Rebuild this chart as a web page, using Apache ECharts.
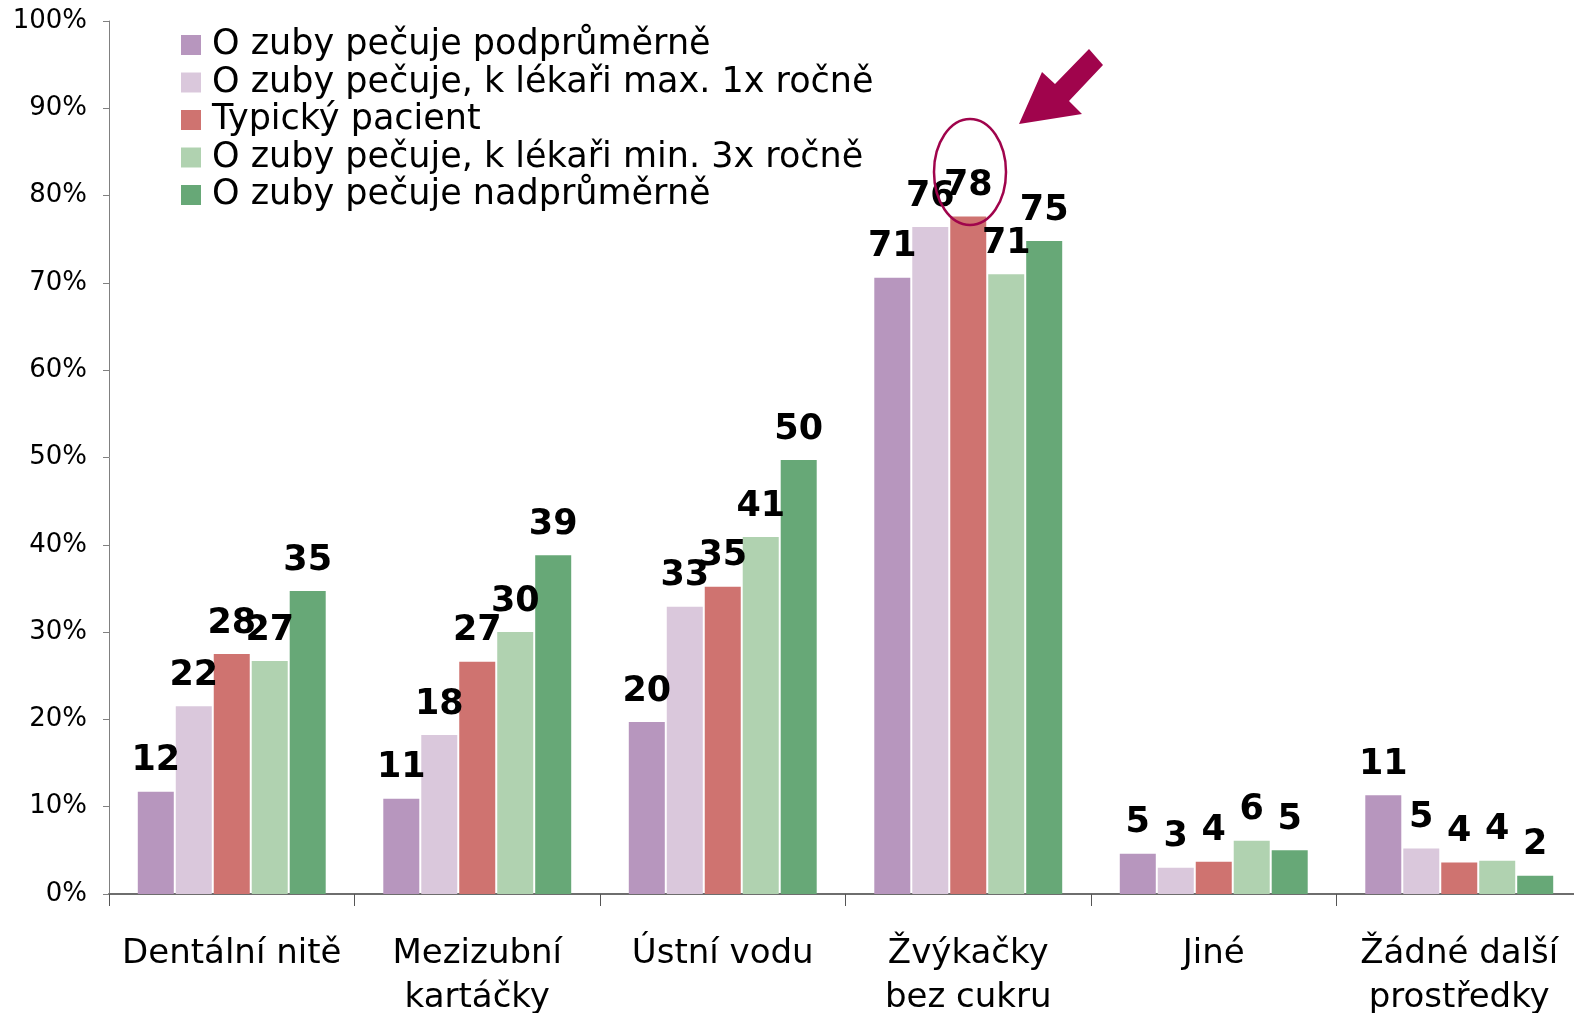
<!DOCTYPE html>
<html>
<head>
<meta charset="utf-8">
<script src="https://cdn.jsdelivr.net/npm/echarts@6/dist/echarts.min.js"></script>
<style>
  html, body { margin: 0; padding: 0; background: #fff; }
  #chart { width: 1574px; height: 1013px; }
</style>
</head>
<body>
<div id="chart"></div>
<script>
var categories = ['Dentální nitě', 'Mezizubní\nkartáčky', 'Ústní vodu', 'Žvýkačky\nbez cukru', 'Jiné', 'Žádné další\nprostředky'];
var seriesNames = [
    'O zuby pečuje podprůměrně',
    'O zuby pečuje, k lékaři max. 1x ročně',
    'Typický pacient',
    'O zuby pečuje, k lékaři min. 3x ročně',
    'O zuby pečuje nadprůměrně'
];
var podprumerne = [11.7, 10.9, 19.7, 70.6, 4.6, 11.3];
var max1x = [21.5, 18.2, 32.9, 76.4, 3.0, 5.2];
var typicky = [27.5, 26.6, 35.2, 77.6, 3.7, 3.6];
var min3x = [26.7, 30.0, 40.9, 71.0, 6.1, 3.8];
var nadprumerne = [34.7, 38.8, 49.7, 74.8, 5.0, 2.1];
var colors = ['#b796be', '#dac8dc', '#cf7370', '#b0d2b0', '#67a877'];
var yTicks = [0, 10, 20, 30, 40, 50, 60, 70, 80, 90, 100];

var chart = echarts.init(document.getElementById('chart'));

function makeSeries(name, data, color) {
    return {
        name: name,
        type: 'bar',
        data: data,
        barWidth: 36,
        barGap: '5.5%',
        itemStyle: { color: color },
        label: {
            show: true,
            position: 'top',
            distance: 13,
            fontFamily: 'DejaVu Sans',
            fontWeight: 'bold',
            fontSize: 35,
            color: '#000',
            formatter: function (p) { return Math.round(p.value); }
        }
    };
}

var allData = [podprumerne, max1x, typicky, min3x, nadprumerne];
var series = [];
for (var i = 0; i < 5; i++) {
    series.push(makeSeries(seriesNames[i], allData[i], colors[i]));
}

option = {
    animation: false,
    backgroundColor: '#fff',
    textStyle: { fontFamily: 'DejaVu Sans' },
    grid: { left: 109, right: -8, top: 21, bottom: 119, outerBoundsMode: 'none', containLabel: false },
    legend: {
        orient: 'vertical',
        left: 181,
        top: 27,
        padding: 0,
        itemWidth: 20,
        itemHeight: 20,
        itemGap: 1.5,
        icon: 'rect',
        data: seriesNames,
        textStyle: {
            fontFamily: 'DejaVu Sans',
            fontSize: 35,
            lineHeight: 36,
            color: '#000',
            padding: [0, 0, 0, 6]
        }
    },
    xAxis: {
        type: 'category',
        data: categories,
        axisLine: { lineStyle: { color: '#6e6e6e', width: 2 } },
        axisTick: { show: true, length: 12, lineStyle: { color: '#555', width: 1 } },
        axisLabel: {
            interval: 0,
            margin: 38,
            fontFamily: 'DejaVu Sans',
            fontSize: 34,
            lineHeight: 44,
            color: '#000'
        }
    },
    yAxis: {
        type: 'value',
        min: yTicks[0],
        max: yTicks[yTicks.length - 1],
        interval: 10,
        splitLine: { show: false },
        axisLine: { show: true, lineStyle: { color: '#808080', width: 1 } },
        axisTick: { show: true, length: 6, lineStyle: { color: '#808080' } },
        axisLabel: {
            margin: 22,
            fontFamily: 'DejaVu Sans',
            fontSize: 26,
            color: '#000',
            formatter: '{value}%'
        }
    },
    graphic: [
        {
            type: 'ellipse',
            shape: { cx: 970, cy: 172, rx: 36, ry: 53 },
            style: { fill: 'none', stroke: '#a0044c', lineWidth: 2.5 },
            z: 100
        },
        {
            type: 'polygon',
            shape: {
                points: [[1019, 124], [1042, 72], [1055, 84], [1089, 49], [1103, 65], [1069, 101], [1082, 114]]
            },
            style: { fill: '#a0044c' },
            z: 100
        }
    ],
    series: series
};

chart.setOption(option);
</script>
</body>
</html>
